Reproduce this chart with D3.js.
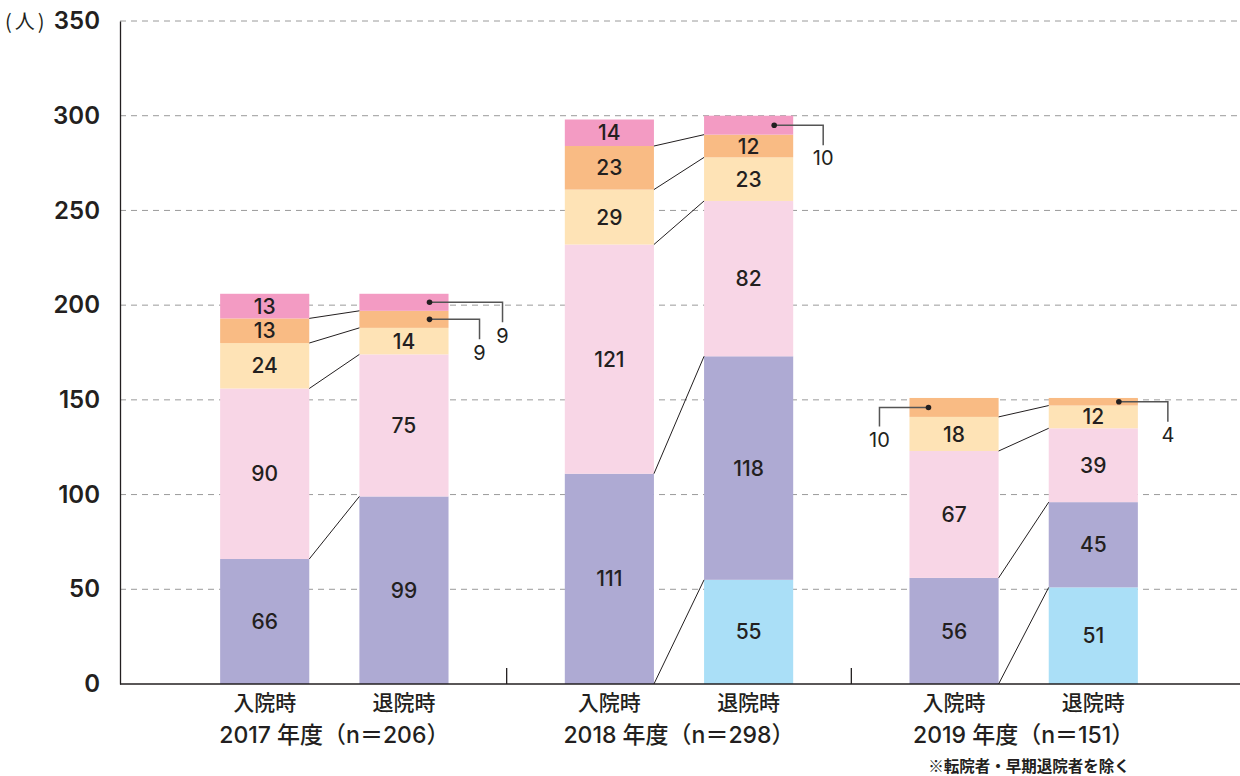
<!DOCTYPE html>
<html lang="ja">
<head>
<meta charset="utf-8">
<script src="https://cdn.jsdelivr.net/npm/d3@7"></script>
<style>
  html, body { margin: 0; padding: 0; background: #fff; }
  svg { display: block; }
  text { font-family: Inter, "Noto Sans CJK JP", sans-serif; fill: #231f20; }
  .cjk { font-family: "Noto Sans CJK JP", sans-serif; }
</style>
</head>
<body>
<svg id="chart" width="1240" height="776"></svg>
<script>
// ---- data ----
const years = ["2017", "2018", "2019"];
const yearTotals = [206, 298, 151];
const stages = ["入院時", "退院時"];
const yTicks = [0, 50, 100, 150, 200, 250, 300, 350];

// one entry per bar: 2017入院, 2017退院, 2018入院, 2018退院, 2019入院, 2019退院
const level0 = [0, 0, 0, 55, 0, 51];
const level1 = [66, 99, 111, 118, 56, 45];
const level2 = [90, 75, 121, 82, 67, 39];
const level3 = [24, 14, 29, 23, 18, 12];
const level4 = [13, 9, 23, 12, 10, 4];
const level5 = [13, 9, 14, 10, 0, 0];

const seriesKeys = ["level0", "level1", "level2", "level3", "level4", "level5"];
const seriesValues = [level0, level1, level2, level3, level4, level5];
const seriesColors = ["#aadff7", "#aeaad3", "#f8d6e6", "#fee3b6", "#f9bb84", "#f39bc3"];

// segments labelled outside the bar with an elbow leader
const callouts = [
  { bar: 1, series: 5, side: "right", reach: 54, drop: 20 },
  { bar: 1, series: 4, side: "right", reach: 31, drop: 20 },
  { bar: 3, series: 5, side: "right", reach: 30, drop: 20 },
  { bar: 4, series: 4, side: "left",  reach: 30, drop: 19 },
  { bar: 5, series: 4, side: "right", reach: 30, drop: 20 }
];

// ---- table for the stack ----
const bars = [];
years.forEach((yr, gi) => stages.forEach((st, si) => {
  const idx = gi * 2 + si;
  const row = { year: yr, stage: st, idx };
  seriesKeys.forEach((k, ki) => row[k] = seriesValues[ki][idx]);
  bars.push(row);
}));
const stacked = d3.stack().keys(seriesKeys)(bars);
const barTotal = d => d3.sum(seriesKeys, k => d[k]);

// ---- scales ----
const svg = d3.select("#chart");
const y = d3.scaleLinear().domain([0, 350]).range([684, 21]);
const xGroup = d3.scaleBand().domain(years).range([162, 1196]).padding(0);
const xStage = d3.scaleBand().domain(stages).range([0, xGroup.bandwidth()])
  .paddingInner(0.36).paddingOuter(0.4175);
const barX = d => xGroup(d.year) + xStage(d.stage);
const bw = xStage.bandwidth();

// ---- grid ----
svg.append("g").selectAll("line").data(yTicks.filter(t => t > 0)).join("line")
  .attr("x1", 120).attr("x2", 1240)
  .attr("y1", d => y(d)).attr("y2", d => y(d))
  .attr("stroke", "#9a9a9a").attr("stroke-width", 1)
  .attr("stroke-dasharray", "6,5");

// ---- y axis ----
const yAxis = svg.append("g").attr("transform", "translate(120,0)")
  .call(d3.axisLeft(y).tickValues(yTicks).tickSize(0).tickPadding(20));
yAxis.select(".domain").attr("stroke", "#231f20").attr("stroke-width", 1.3);
yAxis.selectAll("text")
  .attr("font-size", 24).attr("font-weight", 600)
  .attr("font-family", "Inter, sans-serif")
  .attr("fill", "#231f20");
svg.append("text").attr("class", "cjk").attr("x", 5).attr("y", y(350) + 8)
  .attr("font-size", 20).attr("font-weight", 400)
  .attr("letter-spacing", 3)
  .text("(人)");

// ---- bars ----
const layer = svg.append("g");
stacked.forEach((s, si) => {
  layer.append("g").attr("fill", seriesColors[si])
    .selectAll("rect").data(s.filter(d => d[1] > d[0])).join("rect")
    .attr("x", d => barX(d.data)).attr("width", bw)
    .attr("y", d => y(d[1])).attr("height", d => y(d[0]) - y(d[1]));
});

// ---- connectors between paired bars ----
const conn = svg.append("g").attr("stroke", "#231f20").attr("stroke-width", 1);
years.forEach((yr, gi) => {
  const a = bars[gi * 2], b = bars[gi * 2 + 1];
  stacked.forEach((s, si) => {
    if (si === seriesKeys.length - 1) return;
    const va = s[gi * 2][1], vb = s[gi * 2 + 1][1];
    if (va === 0 && vb === 0) return;
    if (va === barTotal(a) && vb === barTotal(b)) return;
    conn.append("line")
      .attr("x1", barX(a) + bw).attr("y1", y(va))
      .attr("x2", barX(b)).attr("y2", y(vb));
  });
});

// ---- value labels ----
const isCallout = (bi, si) => callouts.some(c => c.bar === bi && c.series === si);
const lbl = svg.append("g");
stacked.forEach((s, si) => {
  s.forEach((d, bi) => {
    const v = d[1] - d[0];
    if (v <= 0 || isCallout(bi, si)) return;
    lbl.append("text")
      .attr("x", barX(d.data) + bw / 2).attr("y", y((d[0] + d[1]) / 2))
      .attr("dy", "0.36em").attr("text-anchor", "middle")
      .attr("font-size", 21).attr("font-weight", 500)
      .text(v);
  });
});

// ---- callouts ----
const co = svg.append("g");
callouts.forEach(c => {
  const d = stacked[c.series][c.bar];
  const v = d[1] - d[0];
  const cy = y((d[0] + d[1]) / 2);
  const left = barX(d.data);
  const dotX = c.side === "right" ? left + bw - 19 : left + 19;
  const ex = c.side === "right" ? left + bw + c.reach : left - c.reach;
  co.append("polyline")
    .attr("points", `${dotX},${cy} ${ex},${cy} ${ex},${cy + c.drop}`)
    .attr("fill", "none").attr("stroke", "#555").attr("stroke-width", 1.5);
  co.append("circle").attr("cx", dotX).attr("cy", cy).attr("r", 2.8).attr("fill", "#231f20");
  co.append("text").attr("x", ex).attr("y", cy + c.drop + 13)
    .attr("dy", "0.36em").attr("text-anchor", "middle")
    .attr("font-size", 20).attr("font-weight", 400).text(v);
});

// ---- x axis ----
svg.append("line").attr("x1", 120).attr("x2", 1240).attr("y1", y(0)).attr("y2", y(0))
  .attr("stroke", "#231f20").attr("stroke-width", 1.3);
years.slice(1).forEach(yr => {
  const xs = xGroup(yr);
  svg.append("line").attr("x1", xs).attr("x2", xs).attr("y1", y(0)).attr("y2", y(0) - 16)
    .attr("stroke", "#231f20").attr("stroke-width", 1.3);
});
const xl = svg.append("g");
bars.forEach(d => {
  xl.append("text").attr("class", "cjk").attr("x", barX(d) + bw / 2).attr("y", 710)
    .attr("text-anchor", "middle").attr("font-size", 21).attr("font-weight", 500)
    .text(d.stage);
});
years.forEach((yr, gi) => {
  xl.append("text").attr("x", xGroup(yr) + xGroup.bandwidth() / 2).attr("y", 743)
    .attr("text-anchor", "middle").attr("font-size", 23).attr("font-weight", 500)
    .text(`${yr} 年度（n＝${yearTotals[gi]}）`);
});
svg.append("text").attr("class", "cjk").attr("x", 1029).attr("y", 772).attr("text-anchor", "middle")
  .attr("font-size", 15.5).attr("font-weight", 700).text("※転院者・早期退院者を除く");
</script>
</body>
</html>
